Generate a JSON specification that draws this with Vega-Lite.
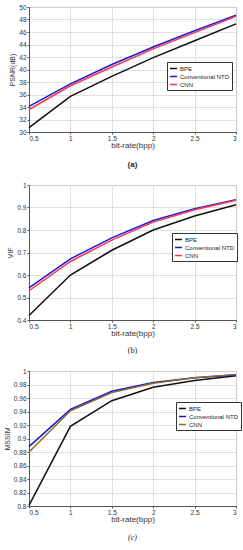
{
  "$schema": "https://vega.github.io/schema/vega-lite/v6.json",
  "padding": {"left": 2, "top": 3, "right": 6, "bottom": 0},
  "background": "white",
  "spacing": 12,
  "config": {
    "font": "Liberation Sans",
    "view": {"stroke": "#9a9a9a", "strokeWidth": 1},
    "axis": {
      "labelFont": "Liberation Sans",
      "labelFontSize": 6.5,
      "labelColor": "#333",
      "titleFont": "Liberation Sans",
      "titleFontWeight": "normal",
      "titleColor": "#333",
      "gridColor": "#d8d8d8",
      "gridWidth": 0.8,
      "domainColor": "#555",
      "tickColor": "#555",
      "tickSize": 2,
      "labelPadding": 1
    },
    "legend": {
      "orient": "none",
      "strokeColor": "#333",
      "fillColor": "white",
      "padding": 2,
      "symbolType": "stroke",
      "symbolSize": 50,
      "symbolStrokeWidth": 1.6,
      "labelFontSize": 6,
      "labelFont": "Liberation Sans",
      "labelColor": "#222",
      "rowPadding": 0,
      "title": null,
      "labelOffset": 2
    },
    "line": {"strokeWidth": 1.5}
  },
  "datasets": {
    "psnr": [
      {"rate": 0.5, "value": 30.7, "method": "BPE"},
      {"rate": 1, "value": 35.7, "method": "BPE"},
      {"rate": 1.5, "value": 38.9, "method": "BPE"},
      {"rate": 2, "value": 41.9, "method": "BPE"},
      {"rate": 2.5, "value": 44.6, "method": "BPE"},
      {"rate": 3, "value": 47.3, "method": "BPE"},
      {"rate": 0.5, "value": 34.1, "method": "Conventional NTD"},
      {"rate": 1, "value": 37.7, "method": "Conventional NTD"},
      {"rate": 1.5, "value": 40.8, "method": "Conventional NTD"},
      {"rate": 2, "value": 43.6, "method": "Conventional NTD"},
      {"rate": 2.5, "value": 46.2, "method": "Conventional NTD"},
      {"rate": 3, "value": 48.7, "method": "Conventional NTD"},
      {"rate": 0.5, "value": 33.6, "method": "CNN"},
      {"rate": 1, "value": 37.4, "method": "CNN"},
      {"rate": 1.5, "value": 40.4, "method": "CNN"},
      {"rate": 2, "value": 43.3, "method": "CNN"},
      {"rate": 2.5, "value": 45.9, "method": "CNN"},
      {"rate": 3, "value": 48.5, "method": "CNN"}
    ],
    "vif": [
      {"rate": 0.5, "value": 0.42, "method": "BPE"},
      {"rate": 1, "value": 0.60, "method": "BPE"},
      {"rate": 1.5, "value": 0.71, "method": "BPE"},
      {"rate": 2, "value": 0.80, "method": "BPE"},
      {"rate": 2.5, "value": 0.862, "method": "BPE"},
      {"rate": 3, "value": 0.912, "method": "BPE"},
      {"rate": 0.5, "value": 0.543, "method": "Conventional NTD"},
      {"rate": 1, "value": 0.672, "method": "Conventional NTD"},
      {"rate": 1.5, "value": 0.765, "method": "Conventional NTD"},
      {"rate": 2, "value": 0.842, "method": "Conventional NTD"},
      {"rate": 2.5, "value": 0.895, "method": "Conventional NTD"},
      {"rate": 3, "value": 0.935, "method": "Conventional NTD"},
      {"rate": 0.5, "value": 0.530, "method": "CNN"},
      {"rate": 1, "value": 0.660, "method": "CNN"},
      {"rate": 1.5, "value": 0.755, "method": "CNN"},
      {"rate": 2, "value": 0.835, "method": "CNN"},
      {"rate": 2.5, "value": 0.890, "method": "CNN"},
      {"rate": 3, "value": 0.932, "method": "CNN"}
    ],
    "mssim": [
      {"rate": 0.5, "value": 0.801, "method": "BPE"},
      {"rate": 1, "value": 0.918, "method": "BPE"},
      {"rate": 1.5, "value": 0.956, "method": "BPE"},
      {"rate": 2, "value": 0.976, "method": "BPE"},
      {"rate": 2.5, "value": 0.986, "method": "BPE"},
      {"rate": 3, "value": 0.993, "method": "BPE"},
      {"rate": 0.5, "value": 0.888, "method": "Conventional NTD"},
      {"rate": 1, "value": 0.943, "method": "Conventional NTD"},
      {"rate": 1.5, "value": 0.970, "method": "Conventional NTD"},
      {"rate": 2, "value": 0.983, "method": "Conventional NTD"},
      {"rate": 2.5, "value": 0.990, "method": "Conventional NTD"},
      {"rate": 3, "value": 0.994, "method": "Conventional NTD"},
      {"rate": 0.5, "value": 0.880, "method": "CNN"},
      {"rate": 1, "value": 0.941, "method": "CNN"},
      {"rate": 1.5, "value": 0.968, "method": "CNN"},
      {"rate": 2, "value": 0.982, "method": "CNN"},
      {"rate": 2.5, "value": 0.990, "method": "CNN"},
      {"rate": 3, "value": 0.995, "method": "CNN"}
    ]
  },
  "resolve": {"scale": {"color": "independent", "y": "independent"}, "legend": {"color": "independent"}},
  "vconcat": [
    {
      "width": 207,
      "height": 125,
      "data": {"name": "psnr"},
      "title": {"text": "(a)", "orient": "bottom", "font": "Liberation Sans", "fontSize": 8, "fontWeight": "bold", "color": "#222", "offset": 11},
      "mark": {"type": "line"},
      "encoding": {
        "x": {"field": "rate", "type": "quantitative", "scale": {"domain": [0.5, 3], "nice": false},
          "axis": {"values": [0.5, 1, 1.5, 2, 2.5, 3], "format": "~g", "title": "bit-rate(bpp)", "titleFontSize": 8, "titlePadding": 0}},
        "y": {"field": "value", "type": "quantitative", "scale": {"domain": [30, 50], "nice": false, "zero": false},
          "axis": {"values": [30, 32, 34, 36, 38, 40, 42, 44, 46, 48, 50], "format": "~g", "title": "PSNR(dB)", "titleFontSize": 7, "titlePadding": 3}},
        "color": {"field": "method", "type": "nominal",
          "scale": {"domain": ["BPE", "Conventional NTD", "CNN"], "range": ["#111111", "#1a1acc", "#ff3355"]},
          "legend": {"legendX": 138, "legendY": 55}}
      }
    },
    {
      "width": 207,
      "height": 135,
      "data": {"name": "vif"},
      "title": {"text": "(b)", "orient": "bottom", "font": "Liberation Serif", "fontSize": 8, "fontWeight": "normal", "color": "#222", "offset": 9},
      "mark": {"type": "line"},
      "encoding": {
        "x": {"field": "rate", "type": "quantitative", "scale": {"domain": [0.5, 3], "nice": false},
          "axis": {"values": [0.5, 1, 1.5, 2, 2.5, 3], "format": "~g", "title": "bit-rate(bpp)", "titleFontSize": 8, "titlePadding": 0}},
        "y": {"field": "value", "type": "quantitative", "scale": {"domain": [0.4, 1], "nice": false, "zero": false},
          "axis": {"values": [0.4, 0.5, 0.6, 0.7, 0.8, 0.9, 1], "format": "~g", "title": "VIF", "titleFontSize": 7, "titlePadding": 3}},
        "color": {"field": "method", "type": "nominal",
          "scale": {"domain": ["BPE", "Conventional NTD", "CNN"], "range": ["#111111", "#1a1acc", "#ff3355"]},
          "legend": {"legendX": 143, "legendY": 48}}
      }
    },
    {
      "width": 207,
      "height": 135,
      "data": {"name": "mssim"},
      "title": {"text": "(c)", "orient": "bottom", "font": "Liberation Serif", "fontSize": 8, "fontStyle": "italic", "fontWeight": "normal", "color": "#222", "offset": 10},
      "mark": {"type": "line"},
      "encoding": {
        "x": {"field": "rate", "type": "quantitative", "scale": {"domain": [0.5, 3], "nice": false},
          "axis": {"values": [0.5, 1, 1.5, 2, 2.5, 3], "format": "~g", "title": "bit-rate(bpp)", "titleFontSize": 8, "titlePadding": 0}},
        "y": {"field": "value", "type": "quantitative", "scale": {"domain": [0.8, 1], "nice": false, "zero": false},
          "axis": {"values": [0.8, 0.82, 0.84, 0.86, 0.88, 0.9, 0.92, 0.94, 0.96, 0.98, 1], "format": "~g", "title": "MSSIM", "titleFontSize": 7, "titlePadding": 3}},
        "color": {"field": "method", "type": "nominal",
          "scale": {"domain": ["BPE", "Conventional NTD", "CNN"], "range": ["#111111", "#1a1acc", "#8b6a2a"]},
          "legend": {"legendX": 147, "legendY": 31}}
      }
    }
  ]
}
